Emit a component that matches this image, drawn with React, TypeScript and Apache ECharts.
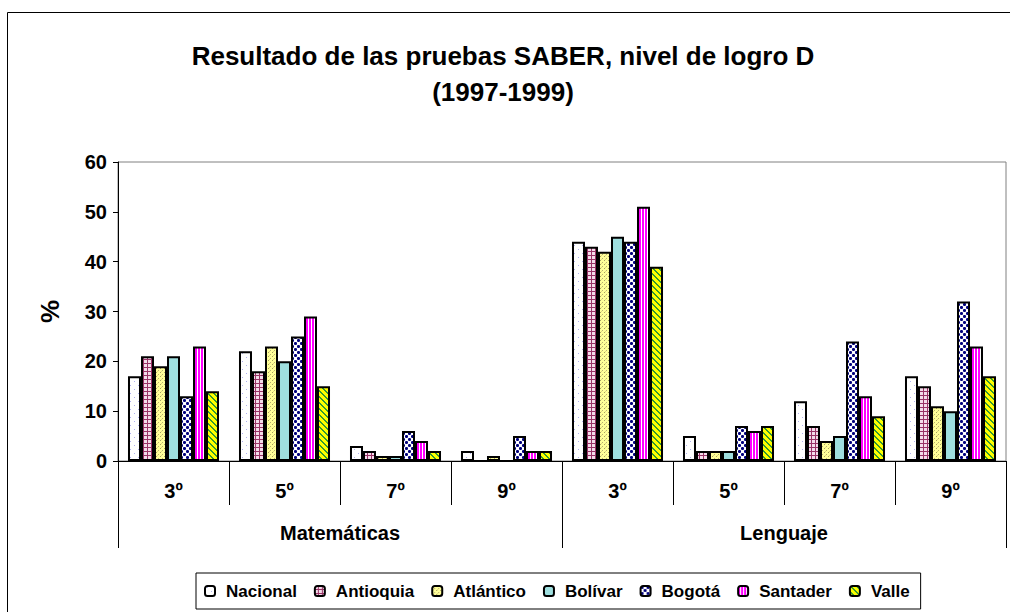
import React, { useEffect, useRef } from "react";
import * as echarts from "echarts";

const subCategories = ["3º", "5º", "7º", "9º", "3º", "5º", "7º", "9º"];
const groupCategories = ["Matemáticas", "Lenguaje"];
const seriesNames = ["Nacional", "Antioquia", "Atlántico", "Bolívar", "Bogotá", "Santader", "Valle"];

const nacional = [17, 22, 3, 2, 44, 5, 12, 17];
const antioquia = [21, 18, 2, 0, 43, 2, 7, 15];
const atlantico = [19, 23, 1, 1, 42, 2, 4, 11];
const bolivar = [21, 20, 1, 0, 45, 2, 5, 10];
const bogota = [13, 25, 6, 5, 44, 7, 24, 32];
const santander = [23, 29, 4, 2, 51, 6, 13, 23];
const valle = [14, 15, 2, 2, 39, 7, 9, 17];

const yTicks = { min: 0, max: 60, interval: 10 };

type Draw = (set: (x: number, y: number, c: string) => void) => void;

function makePattern(w: number, h: number, bg: string, draw: Draw) {
  const c = document.createElement("canvas");
  c.width = w;
  c.height = h;
  const ctx = c.getContext("2d")!;
  ctx.fillStyle = bg;
  ctx.fillRect(0, 0, w, h);
  draw((x, y, col) => {
    ctx.fillStyle = col;
    ctx.fillRect(((x % w) + w) % w, ((y % h) + h) % h, 1, 1);
  });
  return {
    image: c.toDataURL(),
    repeat: "repeat",
    imageWidth: w,
    imageHeight: h,
  } as any;
}

function buildFills() {
  const nac = makePattern(8, 8, "#ffffff", (s) => {
    s(2, 1, "#b0b0f0");
    s(6, 5, "#b0b0f0");
  });
  const ant = makePattern(4, 4, "#f4dcea", (s) => {
    for (let i = 0; i < 4; i++) {
      s(i, 3, "#993366");
      s(3, i, "#993366");
    }
  });
  const atl = makePattern(4, 4, "#ffff99", (s) => {
    s(0, 0, "#a8a060");
    s(2, 2, "#b8b070");
    s(1, 3, "#e0d880");
  });
  const bol = "#9fdfdf";
  const bog = makePattern(6, 6, "#ffffff", (s) => {
    const dot = (cx: number, cy: number) => {
      for (let dx = -1; dx <= 1; dx++)
        for (let dy = -1; dy <= 1; dy++) {
          const corner = dx !== 0 && dy !== 0;
          s(cx + dx, cy + dy, corner ? "#5050a0" : "#000080");
        }
    };
    dot(1, 1);
    dot(4, 4);
  });
  const san = makePattern(3, 2, "#ff00ff", (s) => {
    s(2, 0, "#ffffff");
    s(2, 1, "#ffffff");
  });
  const val = makePattern(6, 6, "#ffff00", (s) => {
    for (let x = 0; x < 6; x++)
      for (let y = 0; y < 6; y++) {
        const d = (((x - y) % 6) + 6) % 6;
        if (d === 0 || d === 1) s(x, y, "#339933");
      }
  });
  return [nac, ant, atl, bol, bog, san, val];
}

export default function App() {
  const ref = useRef<HTMLDivElement>(null);

  useEffect(() => {
    if (!ref.current) return;
    const chart = echarts.init(ref.current, null, { renderer: "svg" });
    const fills = buildFills();
    const dataSets = [nacional, antioquia, atlantico, bolivar, bogota, santander, valle];
    const font = "Arial, 'Liberation Sans', sans-serif";

    const series = seriesNames.map((name, i) => ({
      name,
      type: "bar",
      xAxisIndex: 0,
      yAxisIndex: 0,
      data: dataSets[i],
      barGap: "0%",
      barCategoryGap: "18%",
      itemStyle: {
        color: fills[i],
        borderColor: "#000000",
        borderWidth: 2,
      },
    }));

    chart.setOption({
      animation: false,
      backgroundColor: "#ffffff",
      title: {
        text: "Resultado de las pruebas SABER, nivel de logro D\n(1997-1999)",
        left: 498,
        textAlign: "center",
        top: 33,
        textStyle: {
          fontFamily: font,
          fontWeight: "bold",
          fontSize: 26,
          lineHeight: 36,
          color: "#000000",
        },
      },
      graphic: [
        {
          type: "line",
          shape: { x1: 7.5, y1: 12.5, x2: 1010, y2: 12.5 },
          style: { stroke: "#000000", lineWidth: 1 },
          silent: true,
        },
        {
          type: "line",
          shape: { x1: 7.5, y1: 12.5, x2: 7.5, y2: 612 },
          style: { stroke: "#000000", lineWidth: 1 },
          silent: true,
        },
      ],
      legend: {
        data: seriesNames,
        left: 196,
        top: 573,
        orient: "horizontal",
        padding: [8, 11, 8, 8],
        itemGap: 17,
        itemWidth: 10,
        itemHeight: 10,
        borderColor: "#000000",
        borderWidth: 1,
        backgroundColor: "#ffffff",
        selectedMode: false,
        textStyle: {
          fontFamily: font,
          fontWeight: "bold",
          fontSize: 17,
          lineHeight: 20,
          color: "#000000",
          padding: [0, 0, 0, 6],
        },
      },
      grid: {
        left: 118,
        top: 162,
        right: 4,
        bottom: 151,
        show: true,
        borderColor: "#808080",
        borderWidth: 1,
        containLabel: false,
      },
      xAxis: [
        {
          type: "category",
          data: subCategories,
          position: "bottom",
          axisLine: { show: true, lineStyle: { color: "#000000", width: 1 } },
          axisTick: { show: true, interval: 0, length: 44, lineStyle: { color: "#000000" } },
          axisLabel: {
            interval: 0,
            margin: 20,
            fontFamily: font,
            fontWeight: "bold",
            fontSize: 20,
            color: "#000000",
          },
          splitLine: { show: false },
        },
        {
          type: "category",
          data: groupCategories,
          position: "bottom",
          axisLine: { show: false },
          axisTick: { show: true, interval: 0, length: 87, lineStyle: { color: "#000000" } },
          axisLabel: {
            interval: 0,
            margin: 62,
            fontFamily: font,
            fontWeight: "bold",
            fontSize: 20,
            color: "#000000",
          },
          splitLine: { show: false },
        },
      ],
      yAxis: {
        type: "value",
        min: yTicks.min,
        max: yTicks.max,
        interval: yTicks.interval,
        name: "%",
        nameLocation: "middle",
        nameRotate: 90,
        nameGap: 55,
        nameTextStyle: {
          fontFamily: font,
          fontWeight: "bold",
          fontSize: 26,
          color: "#000000",
        },
        axisLine: { show: true, lineStyle: { color: "#000000", width: 1 } },
        axisTick: { show: true, length: 5, inside: false, lineStyle: { color: "#000000" } },
        axisLabel: {
          margin: 11,
          fontFamily: font,
          fontWeight: "bold",
          fontSize: 20,
          color: "#000000",
        },
        splitLine: { show: false },
      },
      series,
    });

    return () => chart.dispose();
  }, []);

  return (
    <div
      ref={ref}
      style={{ position: "fixed", left: 0, top: 0, width: 1010, height: 612 }}
    />
  );
}
